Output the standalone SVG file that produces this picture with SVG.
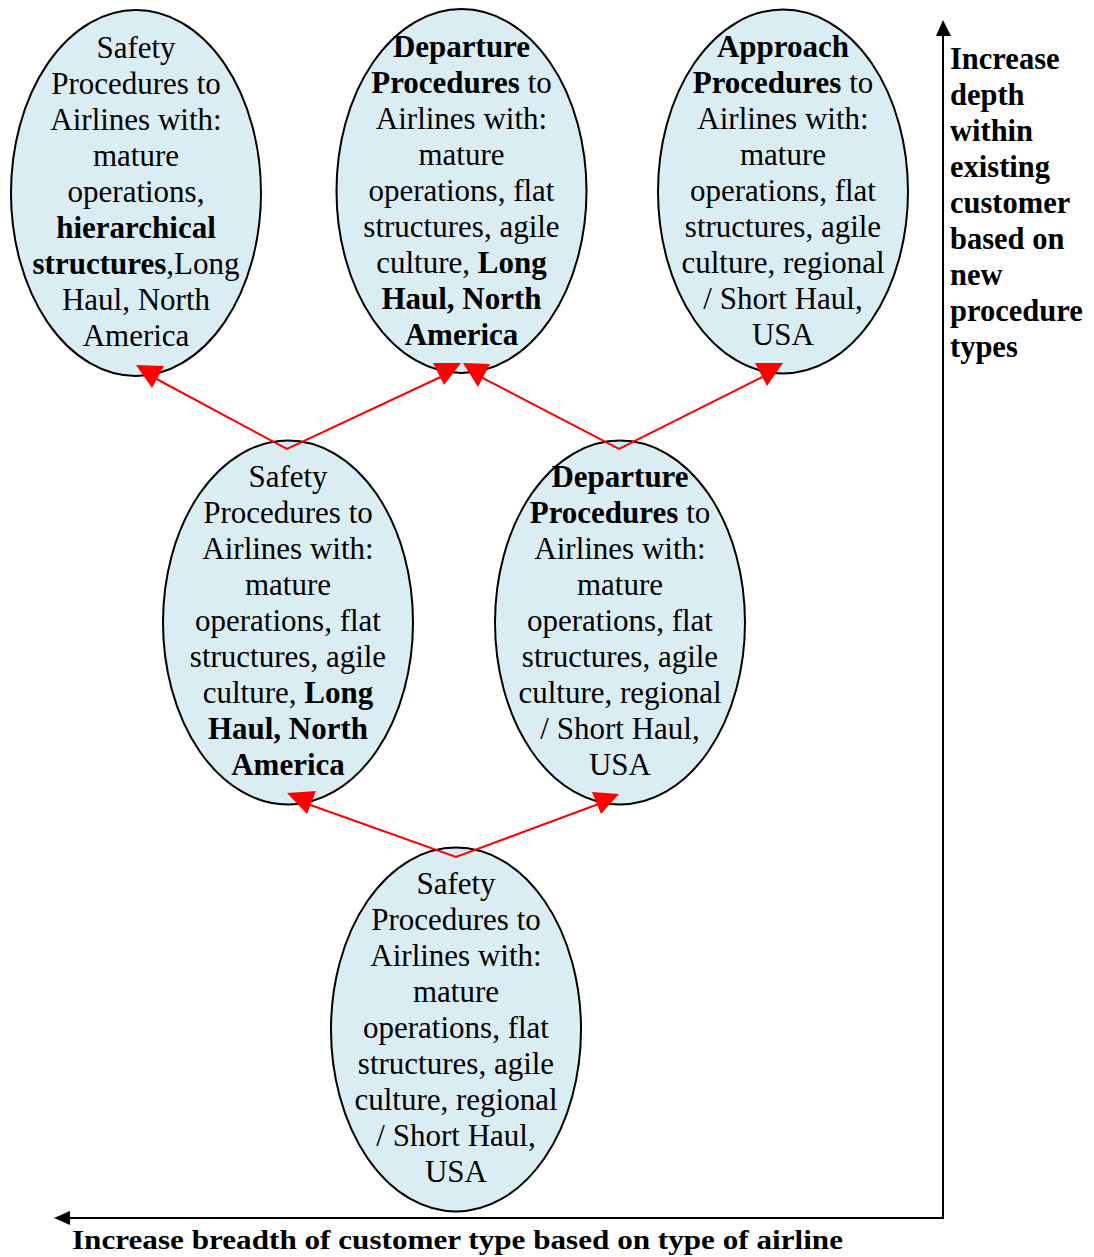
<svg xmlns="http://www.w3.org/2000/svg" width="1094" height="1257" viewBox="0 0 1094 1257">
  <style>
    .node ellipse { fill: #DAEDF3; stroke: #000; stroke-width: 2; }
    .node text { font-family: "Liberation Serif", "Times New Roman", serif; font-size: 31px; fill: #000; text-anchor: middle; }
    .b { font-weight: bold; }
    .link { stroke: #FF0000; stroke-width: 2; fill: none; }
    .head { fill: #FF0000; }
    .axis { stroke: #000; stroke-width: 2; fill: none; }
    .axis-head { fill: #000; }
    .axis-label { font-family: "Liberation Serif", "Times New Roman", serif; font-weight: bold; font-size: 30.5px; fill: #000; }
  </style>

  <!-- top row -->
  <g id="node-safety-hierarchical" class="node">
    <ellipse cx="136" cy="193" rx="125" ry="183"/>
    <text x="136" y="58">Safety</text>
    <text x="136" y="94">Procedures to</text>
    <text x="136" y="130">Airlines with:</text>
    <text x="136" y="166">mature</text>
    <text x="136" y="202">operations,</text>
    <text x="136" y="238" class="b">hierarchical</text>
    <text x="136" y="274"><tspan class="b">structures</tspan>,Long</text>
    <text x="136" y="310">Haul, North</text>
    <text x="136" y="346">America</text>
  </g>

  <g id="node-departure-longhaul" class="node">
    <ellipse cx="461.5" cy="191" rx="125" ry="182"/>
    <text x="461.5" y="57" class="b">Departure</text>
    <text x="461.5" y="93"><tspan class="b">Procedures</tspan> to</text>
    <text x="461.5" y="129">Airlines with:</text>
    <text x="461.5" y="165">mature</text>
    <text x="461.5" y="201">operations, flat</text>
    <text x="461.5" y="237">structures, agile</text>
    <text x="461.5" y="273">culture, <tspan class="b">Long</tspan></text>
    <text x="461.5" y="309" class="b">Haul, North</text>
    <text x="461.5" y="345" class="b">America</text>
  </g>

  <g id="node-approach-shorthaul" class="node">
    <ellipse cx="783" cy="191.5" rx="125" ry="182"/>
    <text x="783" y="57" class="b">Approach</text>
    <text x="783" y="93"><tspan class="b">Procedures</tspan> to</text>
    <text x="783" y="129">Airlines with:</text>
    <text x="783" y="165">mature</text>
    <text x="783" y="201">operations, flat</text>
    <text x="783" y="237">structures, agile</text>
    <text x="783" y="273">culture, regional</text>
    <text x="783" y="309">/ Short Haul,</text>
    <text x="783" y="345">USA</text>
  </g>

  <!-- middle row -->
  <g id="node-safety-longhaul" class="node">
    <ellipse cx="288" cy="622.5" rx="125" ry="182"/>
    <text x="288" y="487">Safety</text>
    <text x="288" y="523">Procedures to</text>
    <text x="288" y="559">Airlines with:</text>
    <text x="288" y="595">mature</text>
    <text x="288" y="631">operations, flat</text>
    <text x="288" y="667">structures, agile</text>
    <text x="288" y="703">culture, <tspan class="b">Long</tspan></text>
    <text x="288" y="739" class="b">Haul, North</text>
    <text x="288" y="775" class="b">America</text>
  </g>

  <g id="node-departure-shorthaul" class="node">
    <ellipse cx="620" cy="622.5" rx="125" ry="182"/>
    <text x="620" y="487" class="b">Departure</text>
    <text x="620" y="523"><tspan class="b">Procedures</tspan> to</text>
    <text x="620" y="559">Airlines with:</text>
    <text x="620" y="595">mature</text>
    <text x="620" y="631">operations, flat</text>
    <text x="620" y="667">structures, agile</text>
    <text x="620" y="703">culture, regional</text>
    <text x="620" y="739">/ Short Haul,</text>
    <text x="620" y="775">USA</text>
  </g>

  <!-- bottom: starting point -->
  <g id="node-safety-shorthaul" class="node">
    <ellipse cx="456" cy="1029.5" rx="125" ry="182"/>
    <text x="456" y="894">Safety</text>
    <text x="456" y="930">Procedures to</text>
    <text x="456" y="966">Airlines with:</text>
    <text x="456" y="1002">mature</text>
    <text x="456" y="1038">operations, flat</text>
    <text x="456" y="1074">structures, agile</text>
    <text x="456" y="1110">culture, regional</text>
    <text x="456" y="1146">/ Short Haul,</text>
    <text x="456" y="1182">USA</text>
  </g>

  <!-- connectors: red arrows from lower ellipses up to the ones above, drawn over the nodes -->
  <g id="connectors">
    <polyline class="link" points="151,376 287,449 447,374"/>
    <polyline class="link" points="475,374 619,449 768,374"/>
    <polyline class="link" points="302,802 456,857 604,802"/>
    <polygon class="head" points="136,365 164,366 152,388"/>
    <polygon class="head" points="433,363 461,363 444,385"/>
    <polygon class="head" points="463,363 490,364 478,387"/>
    <polygon class="head" points="755,363 783,363 767,386"/>
    <polygon class="head" points="287,793 316,791 307,814"/>
    <polygon class="head" points="592,792 619,794 601,814"/>
  </g>

  <!-- axes -->
  <g id="axes">
    <polyline class="axis" points="943,34 943,1218 66,1218"/>
    <polygon class="axis-head" points="943,20 936,36 951,36"/>
    <polygon class="axis-head" points="54,1218 70,1211 70,1225"/>
    <text class="axis-label" x="950" y="69">Increase</text>
    <text class="axis-label" x="950" y="105">depth</text>
    <text class="axis-label" x="950" y="141">within</text>
    <text class="axis-label" x="950" y="177">existing</text>
    <text class="axis-label" x="950" y="213">customer</text>
    <text class="axis-label" x="950" y="249">based on</text>
    <text class="axis-label" x="950" y="285">new</text>
    <text class="axis-label" x="950" y="321">procedure</text>
    <text class="axis-label" x="950" y="357">types</text>
    <text class="axis-label" x="72" y="1249" style="font-size:28px" textLength="771" lengthAdjust="spacingAndGlyphs">Increase breadth of customer type based on type of airline</text>
  </g>
</svg>
